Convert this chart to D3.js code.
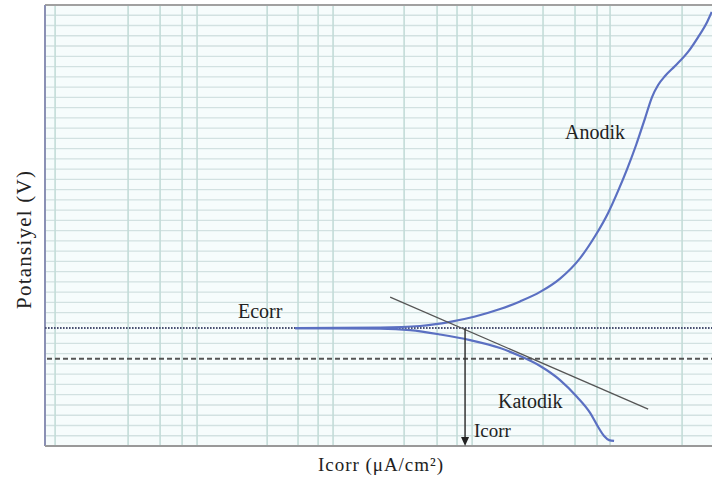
<!DOCTYPE html>
<html>
<head>
<meta charset="utf-8">
<script src="https://cdn.jsdelivr.net/npm/d3@7"></script>
<style>
  html, body { margin: 0; padding: 0; background: #ffffff; }
  svg { display: block; }
  text { font-family: "Liberation Serif", "Times New Roman", serif; fill: #222; }
</style>
</head>
<body>
<svg id="chart" width="712" height="482"></svg>
<script>
// ---- data (x: log current, decades; y: potential, V) ----
const anodicX = [1.206, 1.819, 2.108, 2.325, 2.505, 2.686, 2.830, 2.975, 3.119, 3.264, 3.372, 3.466, 3.538, 3.603, 3.668, 3.733, 3.783, 3.827, 3.877, 3.949, 4.043, 4.116, 4.181, 4.214];
const anodicY = [-0.440, -0.438, -0.432, -0.416, -0.395, -0.366, -0.336, -0.299, -0.247, -0.167, -0.081, 0.009, 0.095, 0.180, 0.274, 0.379, 0.461, 0.508, 0.543, 0.582, 0.637, 0.695, 0.754, 0.793];
const cathodicX = [1.206, 1.819, 2.036, 2.253, 2.469, 2.686, 2.830, 2.975, 3.119, 3.242, 3.336, 3.394, 3.437, 3.473, 3.509];
const cathodicY = [-0.440, -0.442, -0.448, -0.465, -0.487, -0.518, -0.549, -0.588, -0.643, -0.709, -0.771, -0.826, -0.861, -0.877, -0.880];
const tangentX = [1.892, 3.755];
const tangentY = [-0.319, -0.756];
const ecorr = -0.44;
const dashedLevel = -0.56;
const icorrX = 2.433;
const gridX = [-0.527, 0, 0.231, 0.39, 0.498, 1.004, 1.227, 1.372, 1.48, 1.993, 2.231, 2.375, 2.484, 2.996, 3.227, 3.386, 3.48, 4.0];
const yMin = -0.9, yMax = 0.82, yStep = 0.04;
const labels = { ecorr: "Ecorr", anodic: "Anodik", cathodic: "Katodik", icorr: "Icorr", xTitle: "Icorr (μA/cm²)", yTitle: "Potansiyel (V)" };

const svg = d3.select("#chart");
const L = 45, R = 712, T = 5, B = 446;
const x = d3.scaleLinear().domain([-0.6, 4.216]).range([L, R]);
const y = d3.scaleLinear().domain([yMin, yMax]).range([B, T]);

// plot background
svg.append("rect").attr("x", L).attr("y", T).attr("width", R - L).attr("height", B - T).attr("fill", "#f6fcfc");

// horizontal grid
const gridY = d3.range(0, Math.round((yMax - yMin) / yStep) + 1).map(i => yMin + i * yStep);
svg.append("g").selectAll("line").data(gridY).join("line")
  .attr("x1", L).attr("x2", R).attr("y1", d => y(d)).attr("y2", d => y(d))
  .attr("stroke", "#d2e1e1").attr("stroke-width", 1.3);
// vertical grid
svg.append("g").selectAll("line").data(gridX).join("line")
  .attr("y1", T).attr("y2", B).attr("x1", d => x(d)).attr("x2", d => x(d))
  .attr("stroke", "#c3dcd8").attr("stroke-width", 1.6);

// frame
svg.append("line").attr("x1", L).attr("x2", R).attr("y1", T).attr("y2", T).attr("stroke", "#a0a0a0").attr("stroke-width", 2);
svg.append("line").attr("x1", L).attr("x2", L).attr("y1", T).attr("y2", B).attr("stroke", "#8a90b4").attr("stroke-width", 2);
svg.append("line").attr("x1", L).attr("x2", R).attr("y1", B).attr("y2", B).attr("stroke", "#999").attr("stroke-width", 2.2);

// reference lines
svg.append("line").attr("x1", L).attr("x2", R).attr("y1", y(ecorr)).attr("y2", y(ecorr))
  .attr("stroke", "#4a5072").attr("stroke-width", 2).attr("stroke-dasharray", "1.6,1.4");
svg.append("line").attr("x1", L + 2).attr("x2", R).attr("y1", y(dashedLevel)).attr("y2", y(dashedLevel))
  .attr("stroke", "#555").attr("stroke-width", 2).attr("stroke-dasharray", "5,3");

// curves
const line = d3.line().x(d => x(d[0])).y(d => y(d[1])).curve(d3.curveMonotoneX);
svg.append("path").datum(d3.zip(anodicX, anodicY)).attr("d", line)
  .attr("fill", "none").attr("stroke", "#5b70c2").attr("stroke-width", 2.2);
svg.append("path").datum(d3.zip(cathodicX, cathodicY)).attr("d", line)
  .attr("fill", "none").attr("stroke", "#5b70c2").attr("stroke-width", 2.2);

// tangent
svg.append("line").attr("x1", x(tangentX[0])).attr("y1", y(tangentY[0])).attr("x2", x(tangentX[1])).attr("y2", y(tangentY[1]))
  .attr("stroke", "#555").attr("stroke-width", 1.3);

// Icorr arrow
svg.append("line").attr("x1", x(icorrX)).attr("x2", x(icorrX)).attr("y1", y(ecorr)).attr("y2", B - 8)
  .attr("stroke", "#333").attr("stroke-width", 1.5);
svg.append("path")
  .attr("d", `M${x(icorrX) - 4},${B - 9} L${x(icorrX) + 4},${B - 9} L${x(icorrX)},${B} Z`)
  .attr("fill", "#222");

// labels
svg.append("text").attr("x", 238).attr("y", 318).attr("font-size", 20).text(labels.ecorr);
svg.append("text").attr("x", 565).attr("y", 139).attr("font-size", 20).text(labels.anodic);
svg.append("text").attr("x", 498).attr("y", 408).attr("font-size", 20).text(labels.cathodic);
svg.append("text").attr("x", 474).attr("y", 437).attr("font-size", 19).text(labels.icorr);
svg.append("text").attr("x", 318).attr("y", 471).attr("font-size", 19).attr("textLength", 125).text(labels.xTitle);
svg.append("text").attr("transform", "translate(31,240) rotate(-90)").attr("text-anchor", "middle")
  .attr("font-size", 21).attr("textLength", 138).attr("lengthAdjust", "spacing").text(labels.yTitle);
</script>
</body>
</html>
